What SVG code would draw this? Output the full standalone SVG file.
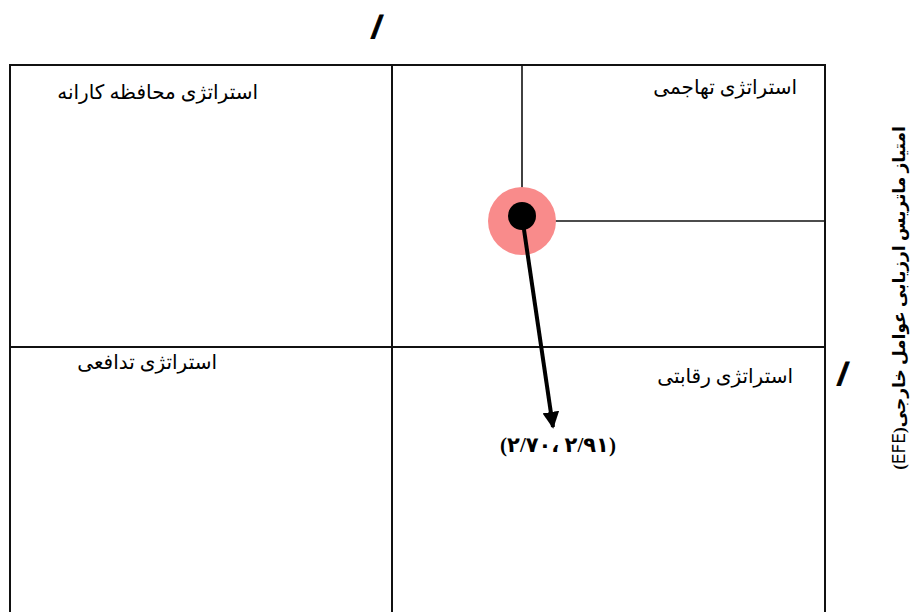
<svg xmlns="http://www.w3.org/2000/svg" width="918" height="612" viewBox="0 0 918 612">
<style>
.grid{fill:none;stroke:#111;stroke-width:2}
.cross{fill:none;stroke:#111;stroke-width:1.6}
.lbl{font-family:"Liberation Serif","DejaVu Serif","DejaVu Sans",serif;font-size:20px;fill:#000}
.bold{font-family:"Liberation Serif","DejaVu Sans",serif;font-weight:bold;fill:#000}
.slash{font-family:"Liberation Sans",sans-serif;font-weight:bold;font-style:italic;font-size:31px;fill:#000;stroke:#000;stroke-width:0.8}
</style>
<defs>
<marker id="ah" viewBox="0 0 10 10" refX="9" refY="5" markerWidth="4.2" markerHeight="4.2" orient="auto" markerUnits="strokeWidth">
<path d="M0,0 L10,5 L0,10 Z" fill="#000"/>
</marker>
</defs>
<rect width="918" height="612" fill="#fff"/>
<g id="grid">
<rect class="grid" x="10" y="65" width="815" height="560"/>
<line class="grid" x1="392" y1="65" x2="392" y2="612"/>
<line class="grid" x1="10" y1="347" x2="825" y2="347"/>
</g>
<g id="connectors">
<line class="cross" x1="522" y1="65" x2="522" y2="216"/>
<line class="cross" x1="522" y1="221" x2="825" y2="221"/>
</g>
<g id="point">
<circle cx="522" cy="221" r="34" fill="#f98b8b"/>
<circle cx="522" cy="216" r="14" fill="#000"/>
<line x1="522" y1="216" x2="553" y2="427" stroke="#000" stroke-width="4" marker-end="url(#ah)"/>
</g>
<g id="q1"><text class="lbl" x="258" y="99" text-anchor="end">استراتژی محافظه کارانه</text></g>
<g id="q2"><text class="lbl" x="797" y="94" text-anchor="end">استراتژی تهاجمی</text></g>
<g id="q3"><text class="lbl" x="217" y="369" text-anchor="end">استراتژی تدافعی</text></g>
<g id="q4"><text class="lbl" x="793" y="383" text-anchor="end">استراتژی رقابتی</text></g>
<g id="value"><text class="bold" x="558" y="452" font-size="21" text-anchor="middle" direction="ltr">(۲/۷۰، ۲/۹۱)</text></g>
<g id="axis"><text class="bold" font-size="17" text-anchor="middle" direction="rtl" transform="translate(905,298) rotate(-90)">امتیاز ماتریس ارزیابی عوامل خارجی(<tspan font-weight="normal" font-family="DejaVu Sans,sans-serif">EFE</tspan>)</text></g>
<text class="slash" x="372" y="38">/</text>
<text class="slash" x="838" y="385">/</text>
</svg>
